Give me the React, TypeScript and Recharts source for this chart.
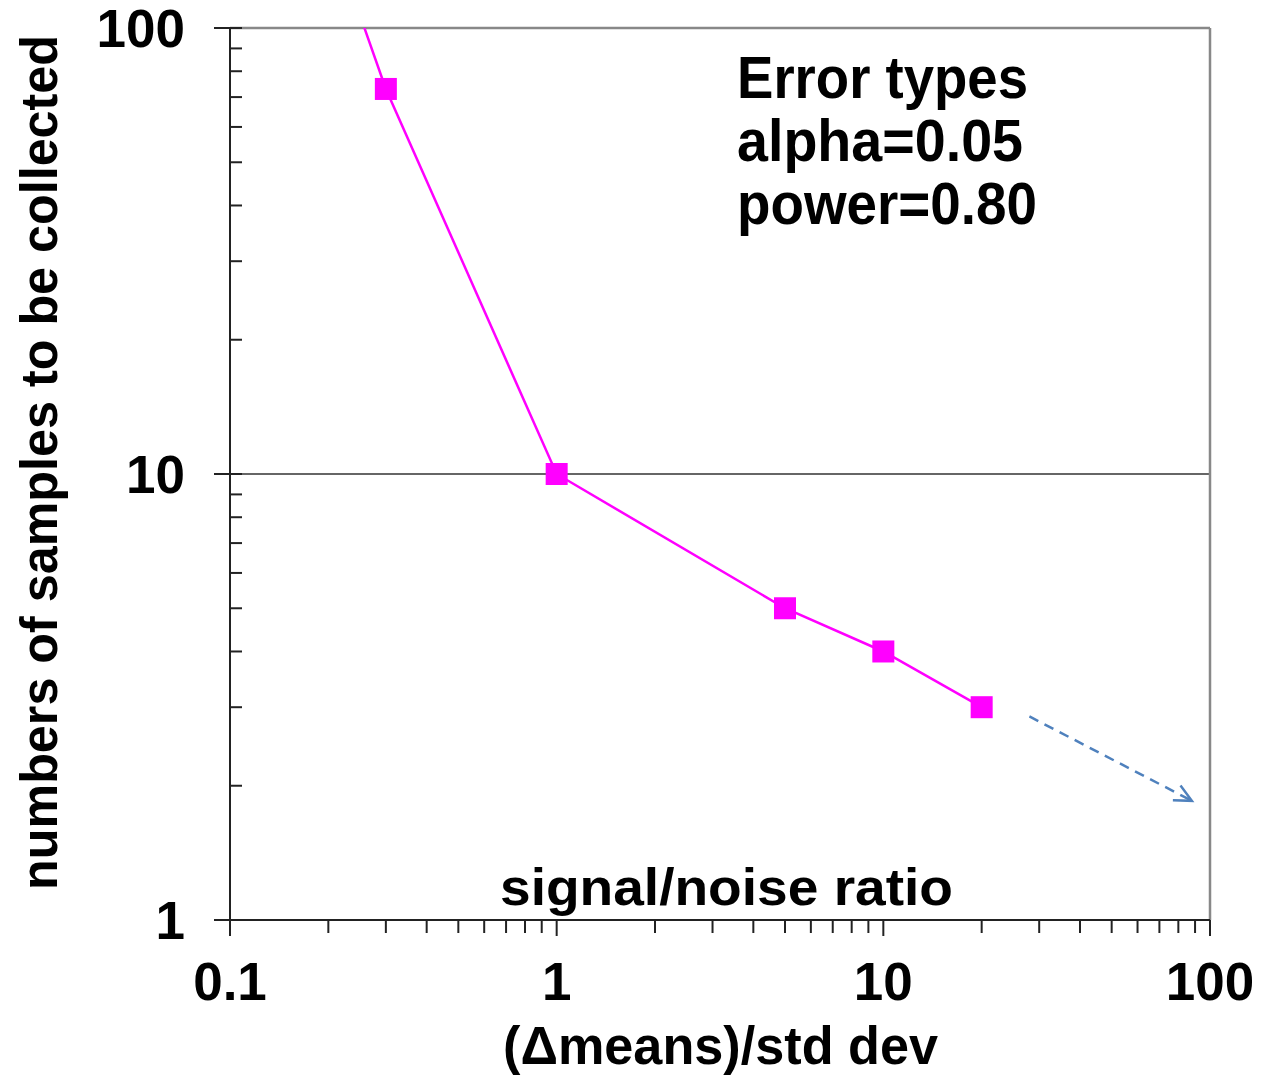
import { LineChart, Line, XAxis, YAxis, ReferenceLine } from "recharts"

// signal/noise ratio vs. number of samples (first point lies above the plot and is clipped)
const ratio = [0.2, 0.3, 1, 5, 10, 20]
const samples = [170, 73, 10, 5, 4, 3]

const xMajor = [0.1, 1, 10, 100]
const xTicks = [
  0.1, 0.2, 0.3, 0.4, 0.5, 0.6, 0.7, 0.8, 0.9,
  1, 2, 3, 4, 5, 6, 7, 8, 9,
  10, 20, 30, 40, 50, 60, 70, 80, 90, 100,
]
const yMajor = [1, 10, 100]
const yTicks = [1, 2, 3, 4, 5, 6, 7, 8, 9, 10, 20, 30, 40, 50, 60, 70, 80, 90, 100]

const arrowFrom = { x: 28, y: 2.86 }
const arrowTo = { x: 88, y: 1.85 }

const notes = ["Error types", "alpha=0.05", "power=0.80"]

const W = 1281
const H = 1083
const FONT = "'Liberation Sans', Arial, sans-serif"
const MAGENTA = "#FF00FF"

function XTick(props: any) {
  const { x, y, payload } = props
  const major = xMajor.includes(payload.value)
  return (
    <g>
      <line x1={x} y1={y} x2={x} y2={y + (major ? 16 : 13)} stroke="#222" strokeWidth={2} />
      {major && (
        <text x={x} y={y + 80} textAnchor="middle" fontSize={53} fontWeight="bold" fill="#000" fontFamily={FONT}>
          {payload.value}
        </text>
      )}
    </g>
  )
}

function YTick(props: any) {
  const { x, y, payload } = props
  const major = yMajor.includes(payload.value)
  return (
    <g>
      <line x1={major ? x - 16 : x} y1={y} x2={x + 12} y2={y} stroke="#222" strokeWidth={2} />
      {major && (
        <text x={x - 45} y={y + 19} textAnchor="end" fontSize={53} fontWeight="bold" fill="#000" fontFamily={FONT}>
          {payload.value}
        </text>
      )}
    </g>
  )
}

function SquareDot(props: any) {
  const { cx, cy, payload, index } = props
  if (payload.n > 100 || cx == null || cy == null) return <g key={`d-${index}`} />
  return <rect key={`d-${index}`} x={cx - 11} y={cy - 11} width={22} height={22} fill={MAGENTA} />
}

function Arrow(props: any) {
  const { x1, y1, x2, y2 } = props
  const a = Math.atan2(y2 - y1, x2 - x1)
  const len = 19
  const spread = 0.45
  const p1 = { x: x2 - len * Math.cos(a - spread), y: y2 - len * Math.sin(a - spread) }
  const p2 = { x: x2 - len * Math.cos(a + spread), y: y2 - len * Math.sin(a + spread) }
  return (
    <g>
      <line x1={x1} y1={y1} x2={x2} y2={y2} stroke="#4F81BD" strokeWidth={2.5} strokeDasharray="10 7" />
      <polyline
        points={`${p1.x},${p1.y} ${x2},${y2} ${p2.x},${p2.y}`}
        fill="none"
        stroke="#4F81BD"
        strokeWidth={2.5}
      />
    </g>
  )
}

export default function App() {
  const data = ratio.map((r, i) => ({ r, n: samples[i] }))

  return (
    <div style={{ position: "absolute", left: 0, top: 0, width: W, height: H, background: "#fff" }}>
      <LineChart width={W} height={H} data={data} margin={{ top: 28, right: 71, bottom: 0, left: 0 }}>
        <XAxis
          dataKey="r"
          type="number"
          scale="log"
          domain={[0.1, 100]}
          allowDataOverflow
          ticks={xTicks}
          interval={0}
          tickSize={0}
          tickMargin={0}
          tickLine={false}
          axisLine={{ stroke: "#222", strokeWidth: 2 }}
          height={163}
          tick={<XTick />}
        />
        <YAxis
          type="number"
          scale="log"
          domain={[1, 100]}
          allowDataOverflow
          ticks={yTicks}
          interval={0}
          tickSize={0}
          tickMargin={0}
          tickLine={false}
          axisLine={{ stroke: "#222", strokeWidth: 2 }}
          width={230}
          tick={<YTick />}
        />
        <ReferenceLine y={10} stroke="#333" strokeWidth={1.5} />
        <ReferenceLine y={100} stroke="#888" strokeWidth={2.5} />
        <ReferenceLine x={100} stroke="#888" strokeWidth={2.5} />
        <ReferenceLine segment={[arrowFrom, arrowTo]} shape={<Arrow />} ifOverflow="visible" />
        <Line
          dataKey="n"
          type="linear"
          stroke={MAGENTA}
          strokeWidth={2.5}
          dot={SquareDot}
          activeDot={false}
          isAnimationActive={false}
        />
      </LineChart>

      <svg
        width={W}
        height={H}
        style={{ position: "absolute", left: 0, top: 0, pointerEvents: "none" }}
        fontFamily={FONT}
        fontWeight="bold"
        fill="#000"
      >
        <text x={737} y={98} fontSize={60} textLength={291} lengthAdjust="spacingAndGlyphs">
          {notes[0]}
        </text>
        <text x={737} y={161} fontSize={60} textLength={286} lengthAdjust="spacingAndGlyphs">
          {notes[1]}
        </text>
        <text x={737} y={224} fontSize={60} textLength={300} lengthAdjust="spacingAndGlyphs">
          {notes[2]}
        </text>
        <text x={500} y={905} fontSize={52} textLength={453} lengthAdjust="spacingAndGlyphs">
          signal/noise ratio
        </text>
        <text x={503} y={1064} fontSize={54} textLength={435} lengthAdjust="spacingAndGlyphs">
          (Δmeans)/std dev
        </text>
        <text
          transform="translate(57, 462.5) rotate(-90)"
          textAnchor="middle"
          fontSize={52}
          textLength={855}
          lengthAdjust="spacingAndGlyphs"
        >
          numbers of samples to be collected
        </text>
      </svg>
    </div>
  )
}
